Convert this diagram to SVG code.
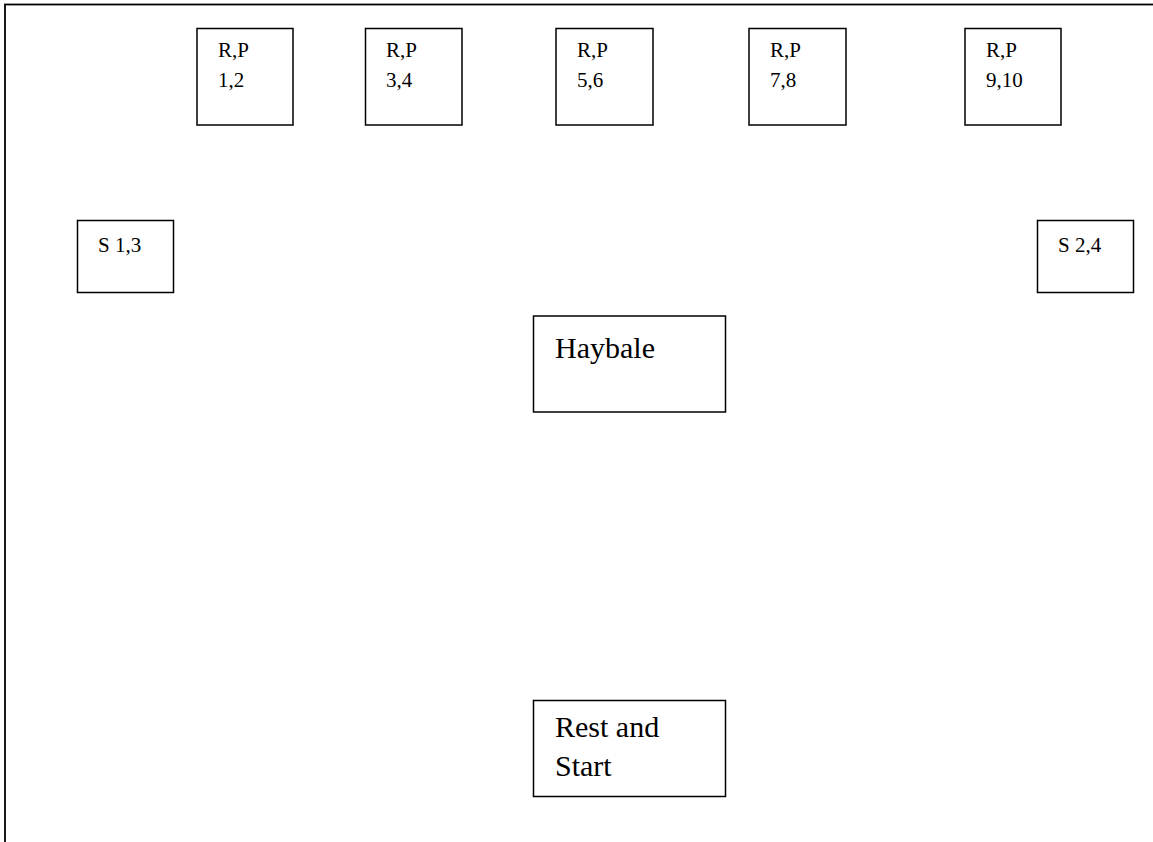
<svg xmlns="http://www.w3.org/2000/svg" width="1153" height="842" viewBox="0 0 1153 842">
<style>
.box{fill:#fff;stroke:#000;stroke-width:1.5}
.frame{fill:none;stroke:#000;stroke-width:1.8}
.s{font-family:"Liberation Serif","Times New Roman",serif;font-size:21px;fill:#000}
.l{font-family:"Liberation Serif","Times New Roman",serif;font-size:30px;fill:#000}
</style>
<rect width="1153" height="842" fill="#fff"/>
<rect class="frame" x="5" y="4.5" width="1300" height="1000"/>
<g id="connectors"></g>
<g id="rp12"><rect class="box" x="197" y="28.5" width="96" height="96.5"/><text class="s" x="218" y="57">R,P</text><text class="s" x="218" y="87">1,2</text></g>
<g id="rp34"><rect class="box" x="365.5" y="28.5" width="96.5" height="96.5"/><text class="s" x="386" y="57">R,P</text><text class="s" x="386" y="87">3,4</text></g>
<g id="rp56"><rect class="box" x="556" y="28.5" width="97" height="96.5"/><text class="s" x="577" y="57">R,P</text><text class="s" x="577" y="87">5,6</text></g>
<g id="rp78"><rect class="box" x="749" y="28.5" width="97" height="96.5"/><text class="s" x="770" y="57">R,P</text><text class="s" x="770" y="87">7,8</text></g>
<g id="rp910"><rect class="box" x="965" y="28.5" width="96" height="96.5"/><text class="s" x="986" y="57">R,P</text><text class="s" x="986" y="87">9,10</text></g>
<g id="s13"><rect class="box" x="77.5" y="220.5" width="96" height="72"/><text class="s" x="98" y="252">S 1,3</text></g>
<g id="s24"><rect class="box" x="1037.5" y="220.5" width="96" height="72"/><text class="s" x="1058" y="252">S 2,4</text></g>
<g id="haybale"><rect class="box" x="533.5" y="316" width="192" height="96"/><text class="l" x="555" y="358">Haybale</text></g>
<g id="rest"><rect class="box" x="533.5" y="700.5" width="192" height="96"/><text class="l" x="555" y="737">Rest and</text><text class="l" x="555" y="776">Start</text></g>
</svg>
